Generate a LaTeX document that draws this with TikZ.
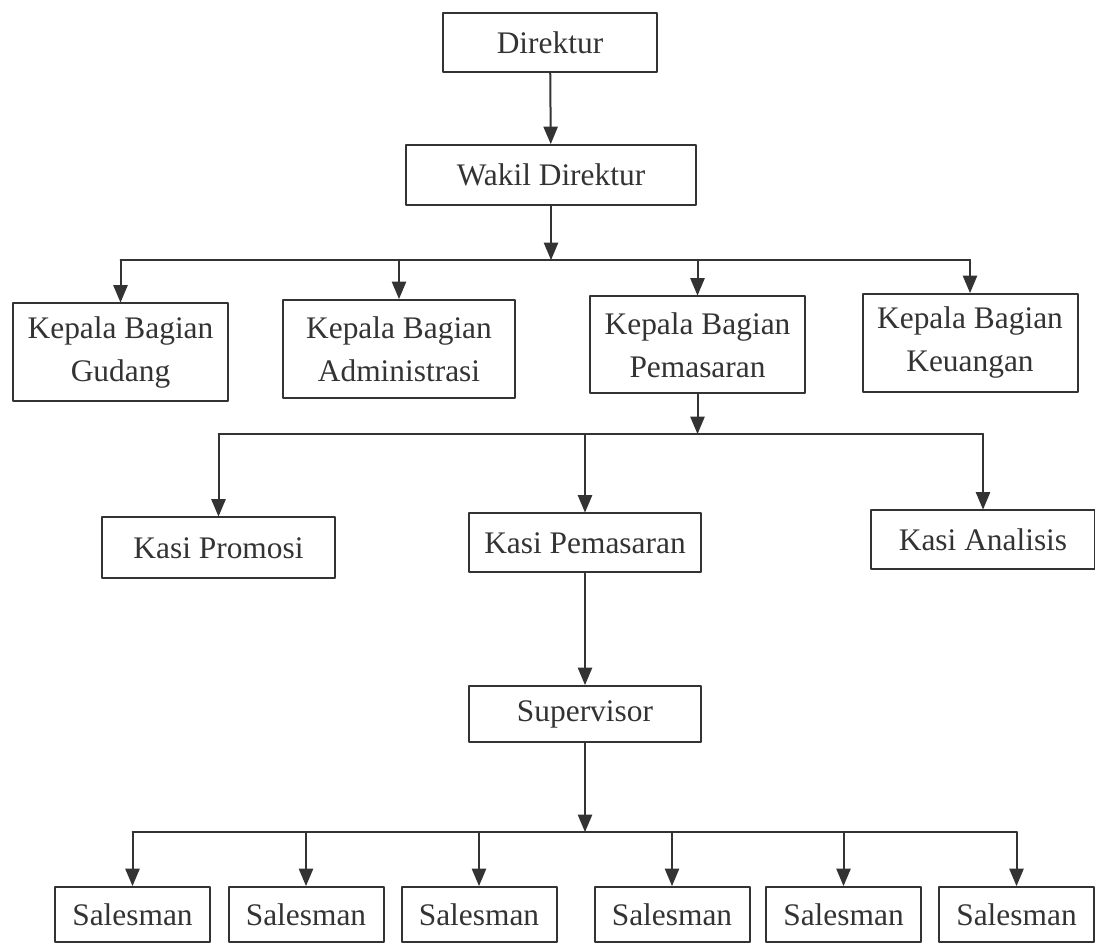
\documentclass[tikz,border=0pt]{standalone}
\usepackage{fontspec}
\setmainfont{Liberation Serif}
\usepackage{pgf,tikz}
\usetikzlibrary{arrows}
\definecolor{garis}{rgb}{0.2,0.2,0.2}

\begin{document}
\begin{tikzpicture}[line cap=round,line join=round,>=triangle 45,x=0.5pt,y=0.5pt,
  kotak/.style={draw=garis,line width=1pt,align=center,inner sep=0pt,text=garis,font=\fontsize{15.7}{21.5}\selectfont},
  hubung/.style={draw=garis,line width=1pt}]
\useasboundingbox (0,0) rectangle (1095,947);
\node [kotak,minimum width=107pt,minimum height=29.5pt] (dir) at (550,904.5) {Direktur};
\node [kotak,minimum width=145pt,minimum height=30pt] (wakil) at (551,772) {Wakil Direktur};
\node [kotak,minimum width=107.5pt,minimum height=49pt] (kbg) at (120.5,594.5) {Kepala Bagian\\Gudang};
\node [kotak,minimum width=116pt,minimum height=49pt] (kba) at (399,598) {Kepala Bagian\\Administrasi};
\node [kotak,minimum width=107.5pt,minimum height=48.5pt] (kbp) at (697.5,602) {Kepala Bagian\\Pemasaran};
\node [kotak,minimum width=107.5pt,minimum height=49pt] (kbk) at (970,604) {Kepala Bagian\\Keuangan};
\node [kotak,minimum width=116.5pt,minimum height=30.5pt] (kpr) at (218.5,399) {Kasi Promosi};
\node [kotak,minimum width=116pt,minimum height=29.5pt] (kpm) at (585,404) {Kasi Pemasaran};
\node [kotak,minimum width=112pt,minimum height=29.5pt] (kan) at (983,407) {Kasi Analisis};
\node [kotak,minimum width=116pt,minimum height=28pt] (sup) at (585,233) {Supervisor};
\node [kotak,minimum width=77.5pt,minimum height=27.5pt] (s1) at (132.5,32.5) {Salesman};
\node [kotak,minimum width=77.5pt,minimum height=27.5pt] (s2) at (306,32.5) {Salesman};
\node [kotak,minimum width=77.5pt,minimum height=27.5pt] (s3) at (479,32.5) {Salesman};
\node [kotak,minimum width=77.5pt,minimum height=27.5pt] (s4) at (672,32.5) {Salesman};
\node [kotak,minimum width=77.5pt,minimum height=27.5pt] (s5) at (843.5,32.5) {Salesman};
\node [kotak,minimum width=77.5pt,minimum height=27.5pt] (s6) at (1016.5,32.5) {Salesman};
\coordinate (b1) at (551,687);
\coordinate (b2) at (697.5,513);
\coordinate (b3) at (585,115);
\draw [hubung,->] (dir) -- (wakil);
\draw [hubung,->] (wakil) -- (b1);
\draw [hubung] (b1 -| kbg) -- (b1 -| kbk);
\foreach \n in {kbg,kba,kbp,kbk}
  \draw [hubung,->] (b1 -| \n) -- (\n);
\draw [hubung,->] (kbp) -- (b2);
\draw [hubung] (b2 -| kpr) -- (b2 -| kan);
\foreach \n in {kpr,kpm,kan}
  \draw [hubung,->] (b2 -| \n) -- (\n);
\draw [hubung,->] (kpm) -- (sup);
\draw [hubung,->] (sup) -- (b3);
\draw [hubung] (b3 -| s1) -- (b3 -| s6);
\foreach \n in {s1,s2,s3,s4,s5,s6}
  \draw [hubung,->] (b3 -| \n) -- (\n);
\end{tikzpicture}
\end{document}
